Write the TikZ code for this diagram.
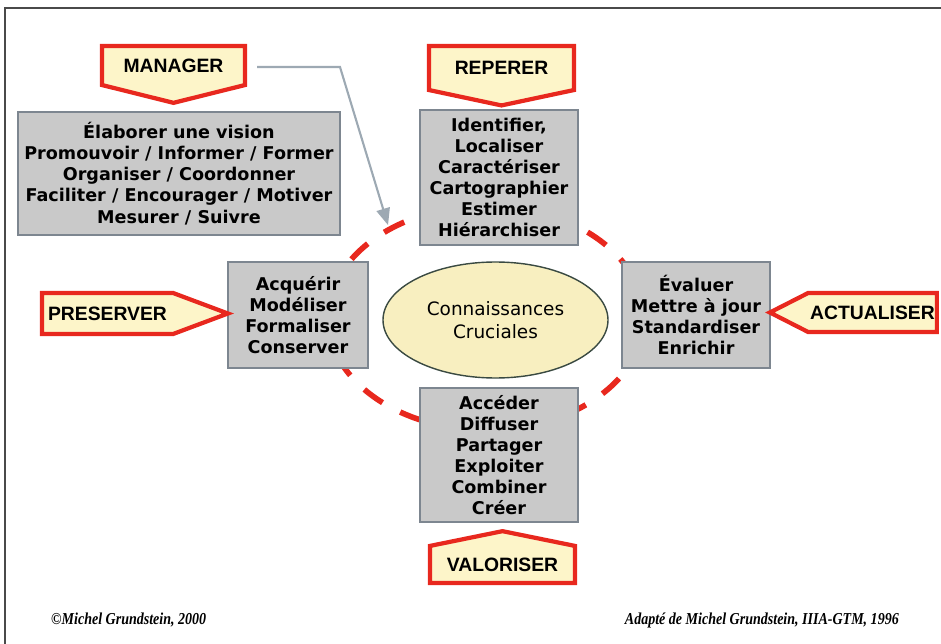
\documentclass[tikz,border=0pt]{standalone}
\usepackage{fontspec}
\setmainfont{DejaVu Sans}
\newfontfamily\bannerfont{Liberation Sans}
\newfontfamily\creditfont[FakeStretch=0.84]{Liberation Serif}
\usepackage{tikz}
\usetikzlibrary{shapes.geometric, shapes.symbols, arrows}
\definecolor{bannerred}{HTML}{E8281E}
\definecolor{bannerfill}{HTML}{FDF5C9}
\definecolor{boxgrey}{HTML}{C9C9C9}
\definecolor{boxedge}{HTML}{7D8690}
\definecolor{corefill}{HTML}{F8EFC0}
\definecolor{coreedge}{HTML}{3A4A42}
\definecolor{pointergrey}{HTML}{9DA9B3}
\definecolor{framegrey}{HTML}{4A4A4A}
\tikzstyle{banner} =
[signal, signal from=nowhere, draw=bannerred, line width=2.4pt,
fill=bannerfill, inner sep=0pt,
font=\bannerfont\bfseries\fontsize{11}{13}\selectfont]
\tikzstyle{task} =
[rectangle, draw=boxedge, line width=1pt, fill=boxgrey, align=center,
font=\bfseries\fontsize{10}{12}\selectfont]
\tikzstyle{core} =
[ellipse, minimum width=4.5cm, minimum height=2.32cm, align=center,
draw=coreedge, line width=0.8pt, fill=corefill,
font=\fontsize{10.5}{13}\selectfont]
\tikzstyle{ring} = [draw=bannerred, line width=3.2pt,
dash pattern=on 0.45cm off 0.4cm]
\tikzstyle{line} = [draw=pointergrey, line width=1.2pt, -triangle 45]
\tikzstyle{credit} = [font=\creditfont\bfseries\itshape\fontsize{9.5}{11}\selectfont]
\tikzstyle{frame} = [draw=framegrey, line width=1pt]

\begin{document}
\begin{tikzpicture}[node distance = 2cm, auto]
  \useasboundingbox (0,0) rectangle (18.82,-12.88);
  \path [frame] (0.1,-12.88) -- (0.1,-0.16) -- (18.82,-0.16);
  % centre
  \node [core] (crucial) at (9.91,-6.40) {Connaissances\\Cruciales};
  \path [ring] ([xshift=-0.19cm, yshift=0.04cm]crucial.center)
   ellipse [x radius=3.16cm, y radius=2.24cm];
  % boxes round the centre
  \node [task, above of=crucial, node distance=2.85cm, xshift=0.07cm,
   minimum width=3.16cm, minimum height=2.7cm] (reperbox)
   {Identifier,\\ Localiser\\ Caractériser\\ Cartographier\\ Estimer\\ Hiérarchiser};
  \node [task, below of=crucial, node distance=2.70cm, xshift=0.07cm,
   minimum width=3.16cm, minimum height=2.68cm] (valorbox)
   {Accéder\\ Diffuser\\ Partager\\ Exploiter\\ Combiner\\ Créer};
  \node [task, left of=crucial, node distance=3.95cm, yshift=0.10cm,
   minimum width=2.8cm, minimum height=2.12cm] (preservbox)
   {Acquérir\\ Modéliser\\ Formaliser\\ Conserver};
  \node [task, right of=crucial, node distance=4.01cm, yshift=0.10cm,
   minimum width=2.96cm, minimum height=2.12cm] (actualbox)
   {Évaluer\\ Mettre à jour\\ Standardiser\\ Enrichir};
  \node [task, left of=reperbox, node distance=6.40cm, yshift=0.08cm,
   minimum width=6.44cm, minimum height=2.46cm] (managebox)
   {Élaborer une vision\\ Promouvoir / Informer / Former\\ Organiser / Coordonner\\
    Faciliter / Encourager / Motiver\\ Mesurer / Suivre};
  % banners
  \node [banner, signal to=south, signal pointer angle=152,
   above of=managebox, node distance=2.16cm, xshift=-0.11cm,
   minimum width=2.86cm, minimum height=1.03cm] (manager) {MANAGER};
  \node [banner, signal to=south, signal pointer angle=156,
   above of=reperbox, node distance=2.19cm, xshift=0.05cm,
   minimum width=2.9cm, minimum height=1.08cm] (reperer) {REPERER};
  \node [banner, signal to=east, signal pointer angle=41,
   left of=preservbox, node distance=3.81cm, yshift=0.03cm,
   minimum width=3.72cm, minimum height=0.82cm] (preserver) {PRESERVER};
  \node [banner, signal to=west, signal pointer angle=54,
   right of=actualbox, node distance=3.53cm, yshift=0.05cm,
   minimum width=3.34cm, minimum height=0.78cm] (actualiser) {ACTUALISER};
  \node [banner, signal to=north, signal pointer angle=157,
   below of=valorbox, node distance=2.19cm, xshift=0.07cm,
   minimum width=2.9cm, minimum height=0.97cm] (valoriser) {VALORISER};
  % pointer from MANAGER
  \coordinate (bend) at (6.80,-1.34);
  \coordinate (target) at (7.76,-4.50);
  \path [line] ([xshift=0.2cm]manager.east |- bend) -- (bend) -- (target);
  % credits
  \node [credit, anchor=west] (source) at (0.9,-12.40) {©Michel Grundstein, 2000};
  \node [credit, anchor=east] (adapt) at (18.1,-12.40)
   {Adapté de Michel Grundstein, IIIA-GTM, 1996};
\end{tikzpicture}
\end{document}
